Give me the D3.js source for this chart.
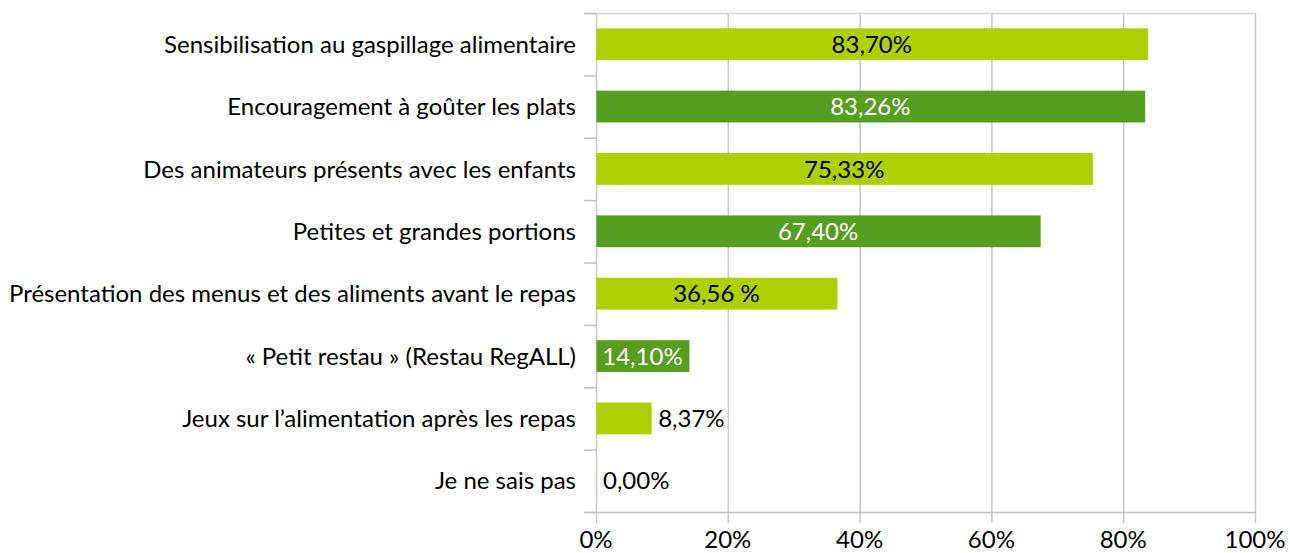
<!DOCTYPE html>
<html>
<head>
<meta charset="utf-8">
<script src="https://cdn.jsdelivr.net/npm/d3@7"></script>
<style>
  body { margin: 0; background: #fff; overflow: hidden; }
  svg text { font-family: Lato, "Open Sans", sans-serif; }
</style>
</head>
<body>
<script>
var width = 1290,
    height = 553;

var categories = [
  "Sensibilisation au gaspillage alimentaire",
  "Encouragement à goûter les plats",
  "Des animateurs présents avec les enfants",
  "Petites et grandes portions",
  "Présentation des menus et des aliments avant le repas",
  "« Petit restau » (Restau RegALL)",
  "Jeux sur l’alimentation après les repas",
  "Je ne sais pas"
];
var values = [0.8370, 0.8326, 0.7533, 0.6740, 0.3656, 0.1410, 0.0837, 0];
var valueLabels = ["83,70%", "83,26%", "75,33%", "67,40%", "36,56 %", "14,10%", "8,37%", "0,00%"];
var ticks = [0, 0.2, 0.4, 0.6, 0.8, 1];

var margin = {top: 13, right: 35, bottom: 41, left: 596};
var light = "#afd000", dark = "#559e1f";
var fontSize = 24;

var x = d3.scaleLinear()
    .domain([0, 1])
    .range([margin.left, width - margin.right]);

var y = d3.scaleBand()
    .domain(categories)
    .range([margin.top, height - margin.bottom])
    .paddingInner(0.49)
    .paddingOuter(0.245);

var svg = d3.select("body").append("svg")
    .attr("width", width)
    .attr("height", height)
    .style("display", "block");

// vertical gridlines
svg.append("g").selectAll("line")
    .data(ticks)
  .enter().append("line")
    .attr("x1", function(d) { return x(d) + 0.5; })
    .attr("x2", function(d) { return x(d) + 0.5; })
    .attr("y1", margin.top)
    .attr("y2", height - margin.bottom + 11)
    .attr("stroke", "#c6c6c6")
    .attr("stroke-width", 1.5);

// top border
svg.append("line")
    .attr("x1", margin.left - 12).attr("x2", x(1) + 1)
    .attr("y1", margin.top + 0.5).attr("y2", margin.top + 0.5)
    .attr("stroke", "#d4d4d4").attr("stroke-width", 1.5);

// bottom axis line
svg.append("line")
    .attr("x1", margin.left - 12).attr("x2", x(1) + 1)
    .attr("y1", height - margin.bottom + 0.5).attr("y2", height - margin.bottom + 0.5)
    .attr("stroke", "#bfbfbf").attr("stroke-width", 1.5);

// category ticks at band boundaries
var step = y.step();
var bounds = d3.range(categories.length + 1).map(function(i) { return margin.top + i * step; });
svg.append("g").selectAll("line")
    .data(bounds)
  .enter().append("line")
    .attr("x1", margin.left - 12)
    .attr("x2", margin.left)
    .attr("y1", function(d) { return d + 0.5; })
    .attr("y2", function(d) { return d + 0.5; })
    .attr("stroke", "#bfbfbf")
    .attr("stroke-width", 1.5);

// bars
svg.append("g").selectAll("rect")
    .data(values)
  .enter().append("rect")
    .attr("x", x(0) + 0.5)
    .attr("y", function(d, i) { return y(categories[i]); })
    .attr("width", function(d) { return Math.max(0, x(d) - x(0)); })
    .attr("height", y.bandwidth())
    .attr("fill", function(d, i) { return i % 2 ? dark : light; });

// value labels
svg.append("g").selectAll("text")
    .data(values)
  .enter().append("text")
    .attr("x", function(d) { return d > 0.12 ? (x(0) + x(d)) / 2 : x(d) + 7; })
    .attr("y", function(d, i) { return y(categories[i]) + y.bandwidth() / 2; })
    .attr("dy", "0.36em")
    .attr("text-anchor", function(d) { return d > 0.12 ? "middle" : "start"; })
    .attr("font-size", fontSize)
    .attr("fill", function(d, i) { return (i % 2 && d > 0.12) ? "#fff" : "#000"; })
    .text(function(d, i) { return valueLabels[i]; });

// category labels
svg.append("g").selectAll("text")
    .data(categories)
  .enter().append("text")
    .attr("x", margin.left - 20)
    .attr("y", function(d) { return y(d) + y.bandwidth() / 2; })
    .attr("dy", "0.36em")
    .attr("text-anchor", "end")
    .attr("font-size", fontSize)
    .attr("fill", "#000")
    .text(function(d) { return d; });

// x tick labels
svg.append("g").selectAll("text")
    .data(ticks)
  .enter().append("text")
    .attr("x", function(d) { return x(d); })
    .attr("y", height - margin.bottom + 36)
    .attr("text-anchor", "middle")
    .attr("font-size", fontSize)
    .attr("fill", "#000")
    .text(d3.format(".0%"));
</script>
</body>
</html>
